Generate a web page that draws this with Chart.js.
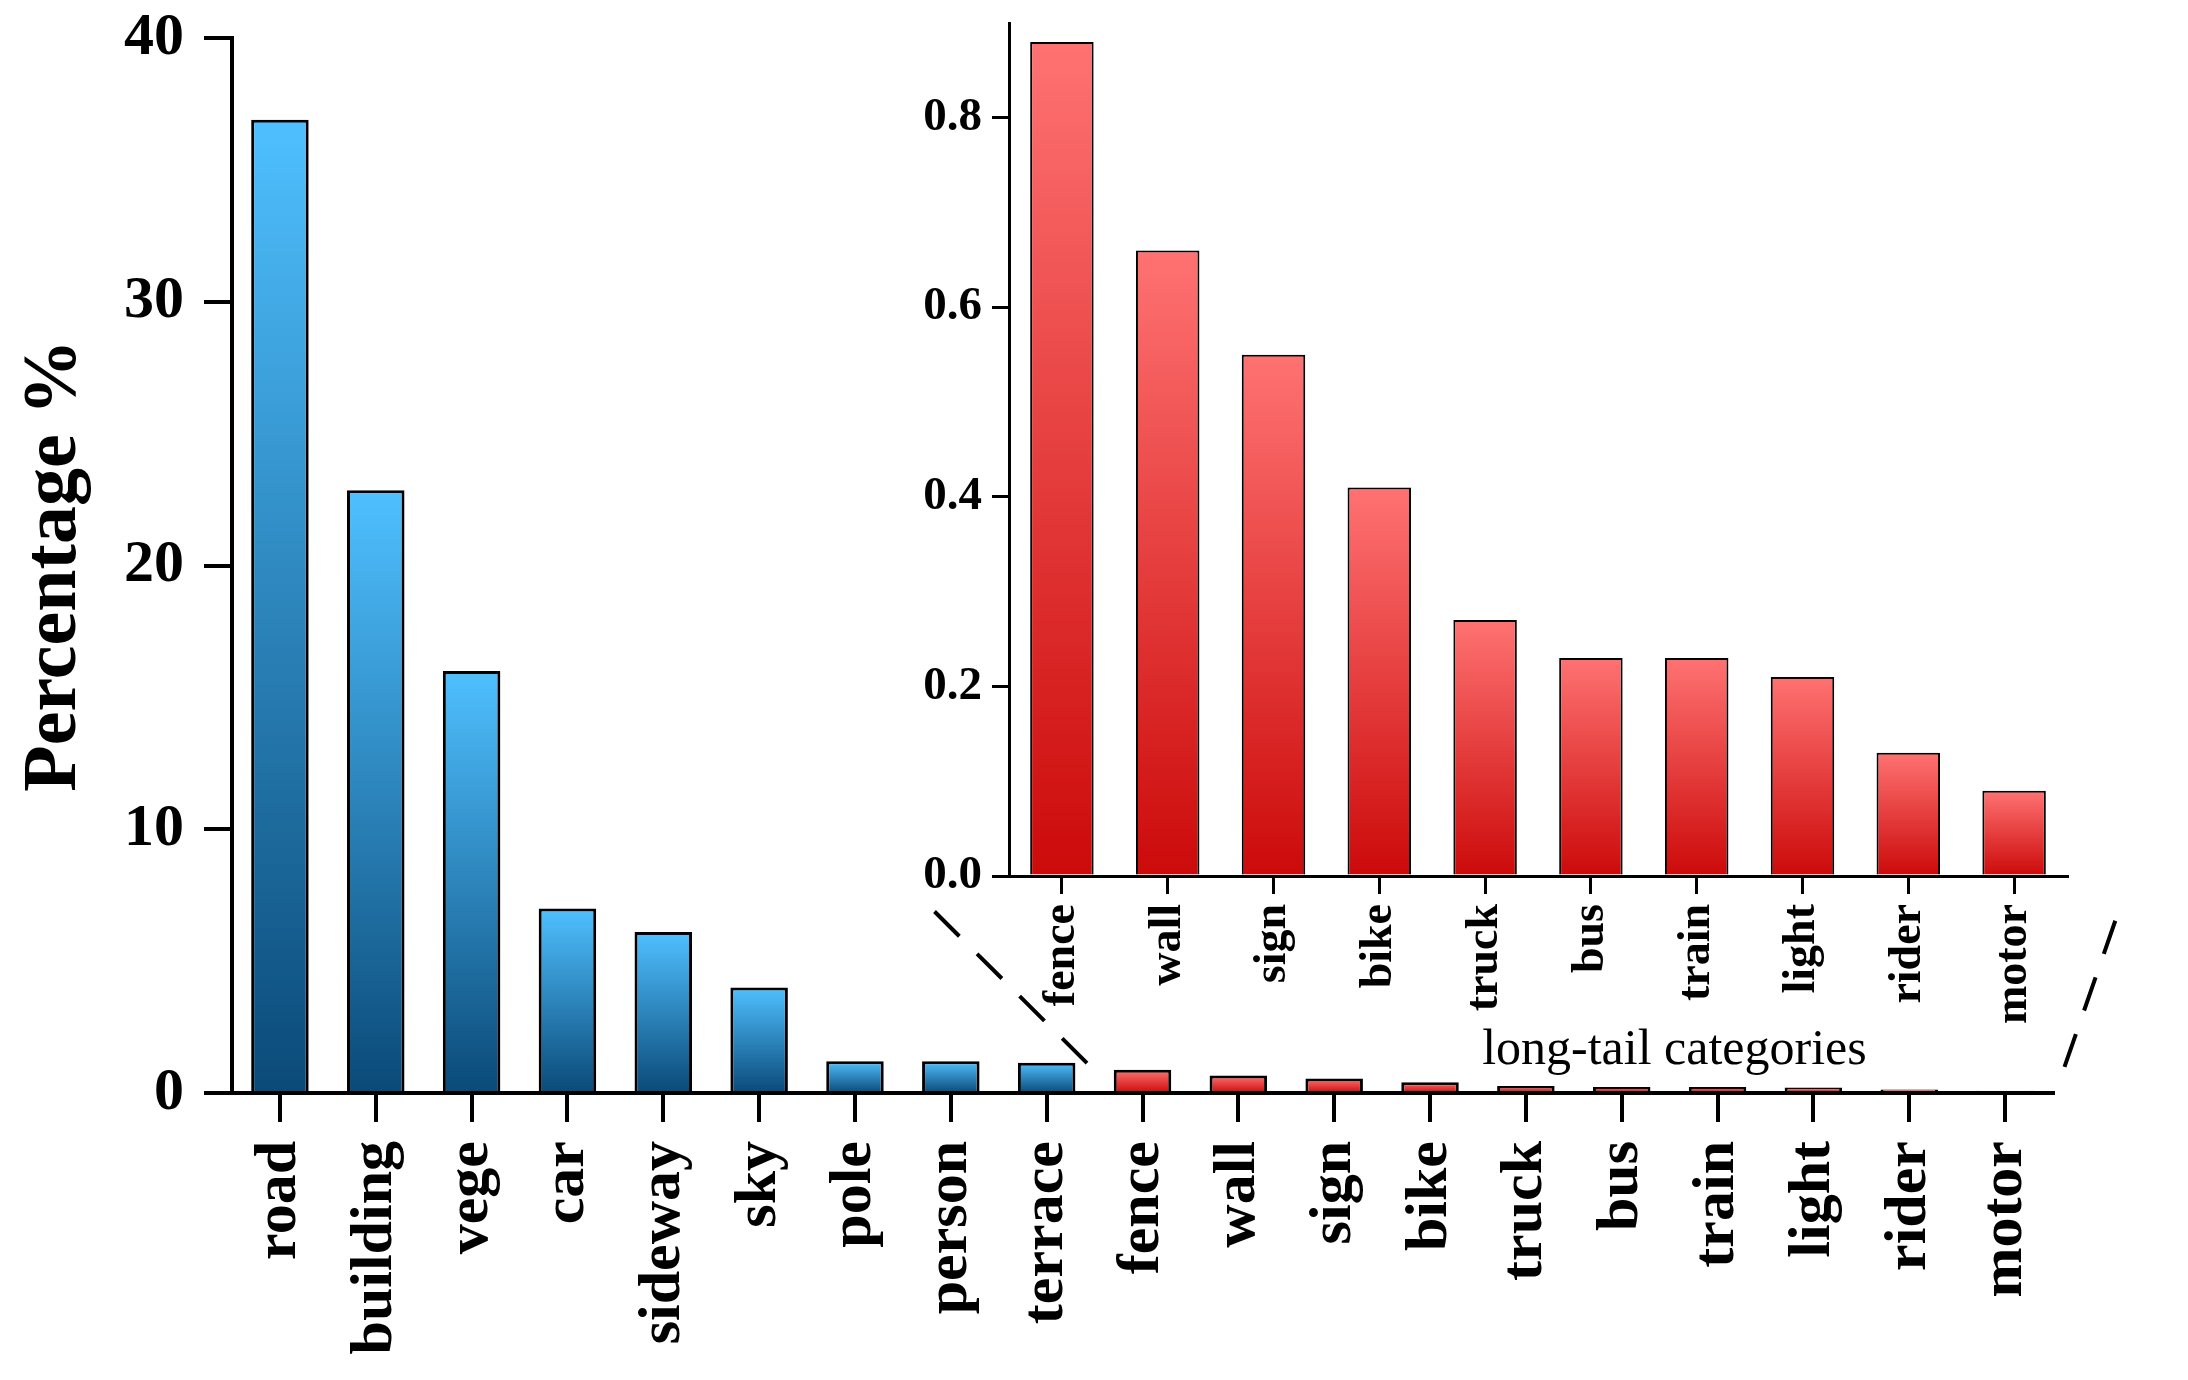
<!DOCTYPE html>
<html>
<head>
<meta charset="utf-8">
<script src="https://cdn.jsdelivr.net/npm/chart.js@4/dist/chart.umd.min.js"></script>
<style>
html,body{margin:0;padding:0;background:#ffffff;}
#wrap{position:relative;width:2188px;height:1380px;background:#ffffff;}
canvas{position:absolute;left:0;top:0;}
</style>
</head>
<body>
<div id="wrap">
<canvas id="mainChart" width="2188" height="1380"></canvas>
<canvas id="insetChart" width="2188" height="1380"></canvas>
</div>
<script>
// ---- data ----
const categories = ['road','building','vege','car','sideway','sky','pole','person','terrace','fence','wall','sign','bike','truck','bus','train','light','rider','motor'];
const percentages = [36.9,22.85,16.0,7.0,6.1,4.0,1.2,1.2,1.15,0.88,0.66,0.55,0.41,0.27,0.23,0.23,0.21,0.13,0.09];
const headCount = 9;
const tailCategories = ['fence','wall','sign','bike','truck','bus','train','light','rider','motor'];
const tailPercentages = [0.88,0.66,0.55,0.41,0.27,0.23,0.23,0.21,0.13,0.09];
const mainYTicks = [0,10,20,30,40];
const insetYTicks = [0.0,0.2,0.4,0.6,0.8];
const yTitle = 'Percentage %';
const tailNoteText = 'long-tail categories';
// annotation anchors in main-chart data units: [category index, percentage]
const zoomGuides = [
  {from:[6.83,6.88], to:[8.43,1.10]},
  {from:[19.15,6.53], to:[18.62,0.99]}
];
const tailNoteAnchor = [14.55,1.6];

// ---- styles ----
const SERIF = '"Liberation Serif","Times New Roman",serif';
const BLUE_TOP = '#4fc0ff', BLUE_BOT = '#0a4a78';
const RED_TOP = '#ff7272', RED_BOT = '#cc0a0a';

function barGradient(ctx, topColor, botColor){
  const chart = ctx.chart;
  const ys = chart.scales && chart.scales.y;
  if (!ys || !ctx.parsed) return topColor;
  const yTop = ys.getPixelForValue(ctx.parsed.y);
  const yBot = ys.getPixelForValue(0);
  if (!isFinite(yTop) || !isFinite(yBot) || Math.abs(yBot - yTop) < 0.5) return botColor;
  const g = chart.ctx.createLinearGradient(0, yTop, 0, yBot);
  g.addColorStop(0, topColor);
  g.addColorStop(1, botColor);
  return g;
}

const guidePlugin = {
  id: 'guides',
  afterDraw(chart){
    const {ctx, scales:{x, y}} = chart;
    ctx.save();
    ctx.strokeStyle = '#000';
    ctx.lineWidth = 4;
    ctx.setLineDash([35,25]);
    zoomGuides.forEach(g => {
      ctx.beginPath();
      ctx.moveTo(x.getPixelForValue(g.from[0]), y.getPixelForValue(g.from[1]));
      ctx.lineTo(x.getPixelForValue(g.to[0]), y.getPixelForValue(g.to[1]));
      ctx.stroke();
    });
    ctx.setLineDash([]);
    ctx.fillStyle = '#000';
    ctx.font = '50px ' + SERIF;
    ctx.textAlign = 'center';
    ctx.textBaseline = 'middle';
    ctx.fillText(tailNoteText, x.getPixelForValue(tailNoteAnchor[0]), y.getPixelForValue(tailNoteAnchor[1]));
    ctx.restore();
  }
};

Chart.defaults.font.family = SERIF;
Chart.defaults.color = '#000';

new Chart(document.getElementById('mainChart'), {
  type: 'bar',
  data: {
    labels: categories,
    datasets: [{
      data: percentages,
      backgroundColor: (c) => c.dataIndex < headCount ? barGradient(c, BLUE_TOP, BLUE_BOT) : barGradient(c, RED_TOP, RED_BOT),
      borderColor: '#000',
      borderWidth: 3,
      categoryPercentage: 1.0,
      barPercentage: 0.6
    }]
  },
  options: {
    responsive: false,
    devicePixelRatio: 1,
    animation: false,
    layout: {padding: {left: 0, top: 38, right: 135, bottom: 0}},
    plugins: {legend: {display: false}, tooltip: {enabled: false}},
    scales: {
      x: {
        offset: true,
        grid: {display: true, drawOnChartArea: false, drawTicks: true, tickLength: 29, lineWidth: 4, color: '#000', offset: false},
        border: {display: true, width: 4, color: '#000'},
        ticks: {autoSkip: false, minRotation: 90, maxRotation: 90, padding: 19, color: '#000',
                font: {family: SERIF, size: 60, weight: 'bold'}},
        afterFit: (s) => { s.height = 287; s.paddingLeft = 0; s.paddingRight = 0; }
      },
      y: {
        min: 0, max: 40,
        afterBuildTicks: (s) => { s.ticks = mainYTicks.map(v => ({value: v})); },
        grid: {display: true, drawOnChartArea: false, drawTicks: true, tickLength: 28, lineWidth: 4, color: '#000'},
        border: {display: true, width: 4, color: '#000'},
        ticks: {padding: 20, color: '#000', font: {family: SERIF, size: 60, weight: 'bold'},
                callback: (v) => String(v)},
        title: {display: true, text: yTitle, color: '#000', font: {family: SERIF, size: 76, weight: 'bold'},
                padding: {top: 10, bottom: 0}},
        afterFit: (s) => { s.width = 232; s.paddingTop = 0; s.paddingBottom = 0; }
      }
    }
  },
  plugins: [guidePlugin]
});

new Chart(document.getElementById('insetChart'), {
  type: 'bar',
  data: {
    labels: tailCategories,
    datasets: [{
      data: tailPercentages,
      backgroundColor: (c) => barGradient(c, RED_TOP, RED_BOT),
      borderColor: '#000',
      borderWidth: 2,
      categoryPercentage: 1.0,
      barPercentage: 0.6
    }]
  },
  options: {
    responsive: false,
    devicePixelRatio: 1,
    animation: false,
    layout: {padding: {left: 800, top: 23, right: 121, bottom: 354}},
    plugins: {legend: {display: false}, tooltip: {enabled: false}},
    scales: {
      x: {
        offset: true,
        grid: {display: true, drawOnChartArea: false, drawTicks: true, tickLength: 18, lineWidth: 3, color: '#000', offset: false},
        border: {display: true, width: 3, color: '#000'},
        ticks: {autoSkip: false, minRotation: 90, maxRotation: 90, padding: 10, color: '#000',
                font: {family: SERIF, size: 46, weight: 'bold'}},
        afterFit: (s) => { s.height = 150; s.paddingLeft = 0; s.paddingRight = 0; }
      },
      y: {
        min: 0, max: 0.9,
        afterBuildTicks: (s) => { s.ticks = insetYTicks.map(v => ({value: v})); },
        grid: {display: true, drawOnChartArea: false, drawTicks: true, tickLength: 17, lineWidth: 3, color: '#000'},
        border: {display: true, width: 3, color: '#000'},
        ticks: {padding: 10, color: '#000', font: {family: SERIF, size: 47, weight: 'bold'},
                callback: (v) => Number(v).toFixed(1)},
        afterFit: (s) => { s.width = 209; s.paddingTop = 0; s.paddingBottom = 0; }
      }
    }
  }
});
</script>
</body>
</html>
